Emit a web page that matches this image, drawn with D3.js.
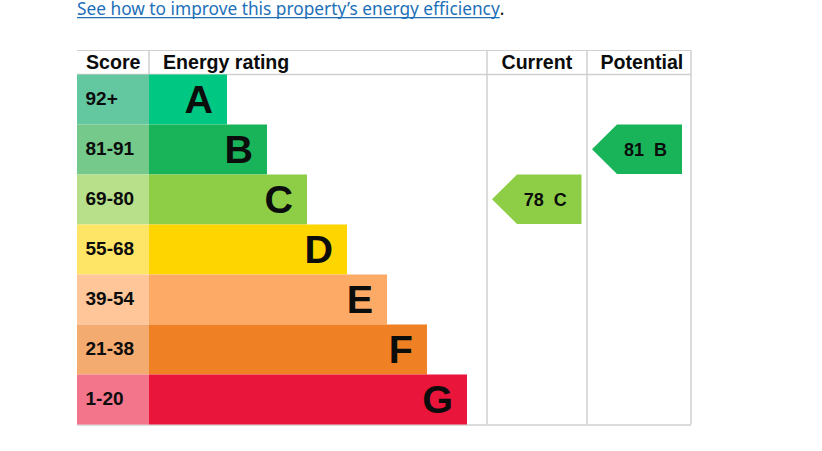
<!DOCTYPE html>
<html><head><meta charset="utf-8">
<script src="https://cdn.jsdelivr.net/npm/d3@7"></script>
<style>
html,body{margin:0;padding:0;background:#fff;}
svg{display:block;}
</style></head>
<body>
<svg id="chart" width="822" height="451"></svg>
<script>
const bands = ["A","B","C","D","E","F","G"];
const scores = ["92+","81-91","69-80","55-68","39-54","21-38","1-20"];
const barColors = ["#00c781","#19b459","#8dce46","#ffd500","#fcaa65","#ef8023","#e9153b"];
const scoreColors = ["#63c7a0","#75c98a","#b8df8a","#ffe566","#fec699","#f4ab70","#f2758c"];
const barSteps = [1,2,3,4,5,6,7];
const headers = ["Score","Energy rating","Current","Potential"];
const currentRating = {value:78, band:"C"};
const potentialRating = {value:81, band:"B"};
const linkText = "See how to improve this property\u2019s energy efficiency";

const svg = d3.select("#chart");
const tLeft = 77, tRight = 691, tTop = 50, headH = 24.5, rowH = 50;
const scoreW = 72, ratingEnd = 487, currentEnd = 587;
const y = d3.scaleBand().domain(bands).range([tTop+headH, tTop+headH+rowH*bands.length]).padding(0);
const barX = d3.scaleLinear().domain([0,7]).range([tLeft+scoreW+38, tLeft+scoreW+38+280]);

// link
const lf = "'Noto Sans', 'Open Sans', sans-serif";
const link = svg.append("text").attr("x",tLeft).attr("y",14.8)
  .attr("font-family",lf).attr("font-size",17.3)
  .attr("fill","#1d70b8").text(linkText);
const lw = link.node().getComputedTextLength();
svg.append("line").attr("x1",tLeft).attr("x2",tLeft+lw).attr("y1",17.6).attr("y2",17.6)
  .attr("stroke","#1d70b8").attr("stroke-width",1.2);
svg.append("text").attr("x",tLeft+lw).attr("y",14.8)
  .attr("font-family",lf).attr("font-size",17.3)
  .attr("fill","#0b0c0c").text(".");

const grid = "#d0d0d0";
const bottom = y.range()[1];
svg.append("line").attr("x1",tLeft).attr("x2",tRight).attr("y1",tTop+0.5).attr("y2",tTop+0.5).attr("stroke",grid);
svg.append("line").attr("x1",tLeft).attr("x2",tRight).attr("y1",tTop+headH).attr("y2",tTop+headH).attr("stroke",grid).attr("stroke-width",1.5);
svg.append("line").attr("x1",tLeft+scoreW).attr("x2",tLeft+scoreW).attr("y1",tTop).attr("y2",tTop+headH).attr("stroke",grid).attr("stroke-width",1.5);
[ratingEnd, currentEnd, tRight].forEach(x=>{
  svg.append("line").attr("x1",x).attr("x2",x).attr("y1",tTop).attr("y2",bottom).attr("stroke",grid).attr("stroke-width",1.5);
});
svg.append("line").attr("x1",tLeft).attr("x2",tRight).attr("y1",bottom+0.5).attr("y2",bottom+0.5).attr("stroke",grid).attr("stroke-width",1.5);

const hf = "Arial, 'Liberation Sans', sans-serif";
const hx = [tLeft+9, tLeft+scoreW+14, ratingEnd+14.5, currentEnd+13.5];
headers.forEach((h,i)=>{
  svg.append("text").attr("x",hx[i]).attr("y",tTop+19.3).attr("font-family",hf)
    .attr("font-weight","bold").attr("font-size",19.6).attr("fill","#0b0c0c").text(h);
});

const rows = svg.selectAll("g.row").data(bands).join("g").attr("class","row");
rows.append("rect").attr("x",tLeft).attr("y",d=>y(d)).attr("width",scoreW).attr("height",y.bandwidth())
  .attr("fill",(d,i)=>scoreColors[i]);
rows.append("text").attr("x",tLeft+8.5).attr("y",d=>y(d)+30)
  .attr("font-family",hf).attr("font-weight","bold").attr("font-size",19).attr("fill","#0b0c0c")
  .text((d,i)=>scores[i]);
rows.append("rect").attr("x",tLeft+scoreW).attr("y",d=>y(d)).attr("width",(d,i)=>barX(barSteps[i])-(tLeft+scoreW))
  .attr("height",y.bandwidth()).attr("fill",(d,i)=>barColors[i]);
rows.append("text").attr("x",(d,i)=>barX(barSteps[i])-14).attr("y",d=>y(d)+38.5)
  .attr("text-anchor","end").attr("font-family",hf).attr("font-weight","bold").attr("font-size",39.5)
  .attr("fill","#0b0c0c").text(d=>d);

function arrow(r, x0, x1){
  const yy = y(r.band), h = y.bandwidth()-0.5;
  const i = bands.indexOf(r.band);
  const pts = [[x0, yy+h/2],[x0+25, yy],[x1, yy],[x1, yy+h],[x0+25, yy+h]];
  svg.append("path").attr("d", d3.line()(pts)+"Z").attr("fill", barColors[i]);
  svg.append("text").attr("x",(x0+25+x1)/2-4).attr("y",yy+h/2+6.5).attr("text-anchor","middle")
    .attr("font-family",hf).attr("font-weight","bold").attr("font-size",18).attr("fill","#0b0c0c")
    .attr("xml:space","preserve").text(r.value+"  "+r.band);
}
arrow(currentRating, ratingEnd+5, currentEnd-5.5);
arrow(potentialRating, currentEnd+5, tRight-9);
</script>
</body></html>
